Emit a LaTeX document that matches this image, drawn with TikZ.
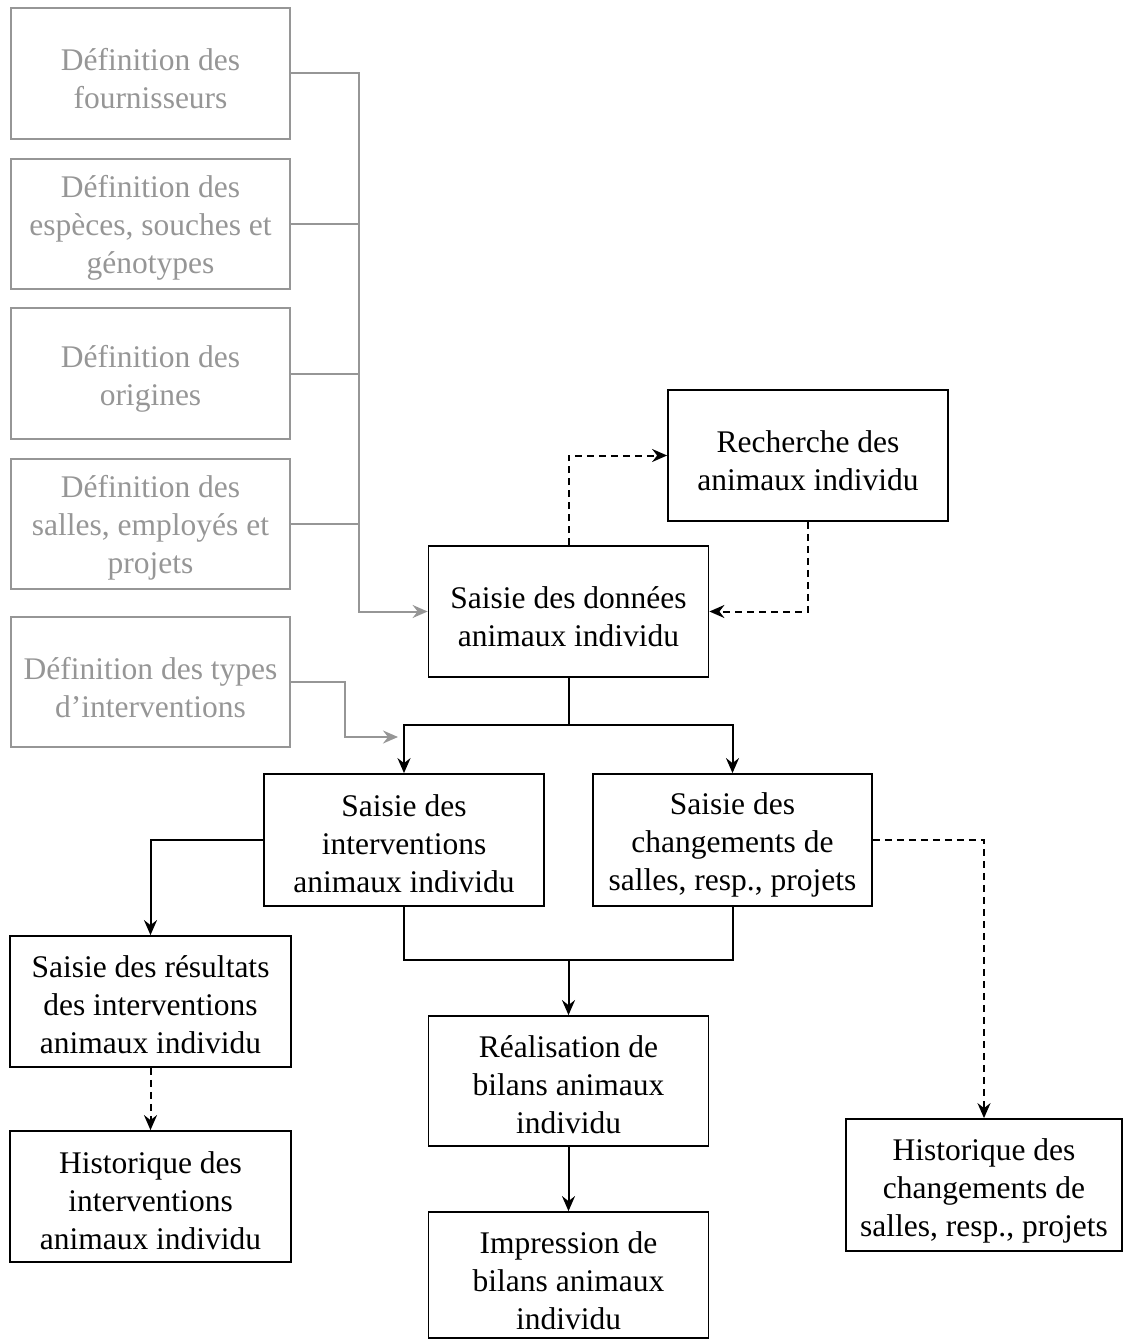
\documentclass[tikz,border=0pt]{standalone}
\usepackage{fontspec}
\setmainfont{Liberation Serif}
\usetikzlibrary{arrows.meta}
\definecolor{lightg}{RGB}{150,150,150}
\begin{document}
\begin{tikzpicture}[x=1pt,y=-1pt,
  font=\fontsize{31.5}{38}\selectfont,
  boxbase/.style={rectangle, inner sep=0pt, line width=1.8pt},
  blk/.style={boxbase, draw=black},
  gbox/.style={boxbase, draw=lightg},
  btxt/.style={align=center, inner sep=0pt, yshift=-5.5pt, text=black},
  gtxt/.style={btxt, text=lightg},
  conn/.style={line width=2pt, draw=black},
  gconn/.style={line width=2pt, draw=lightg},
  dsh/.style={conn, dash pattern=on 7pt off 5pt},
  tip/.style={-{Stealth[length=15pt,width=13pt,inset=5pt]}}
]
\useasboundingbox (0,0) rectangle (1122,1340);

% gray definition boxes
\node[gbox, minimum width=279, minimum height=131, label={[gtxt]center:{Définition des\\fournisseurs}}] (G1) at (150.5,73.5) {};
\node[gbox, minimum width=279, minimum height=130, label={[gtxt, yshift=2pt]center:{Définition des\\espèces, souches et\\génotypes}}] (G2) at (150.5,224) {};
\node[gbox, minimum width=279, minimum height=131, label={[gtxt]center:{Définition des\\origines}}] (G3) at (150.5,373.5) {};
\node[gbox, minimum width=279, minimum height=130, label={[gtxt, yshift=2pt]center:{Définition des\\salles, employés et\\projets}}] (G4) at (150.5,524) {};
\node[gbox, minimum width=279, minimum height=130, label={[gtxt]center:{Définition des types\\d’interventions}}] (G5) at (150.5,682) {};

% black boxes
\node[blk, minimum width=280, minimum height=131, label={[btxt]center:{Recherche des\\animaux individu}}] (Rech) at (808,455.5) {};
\node[blk, minimum width=280, minimum height=131, label={[btxt]center:{Saisie des données\\animaux individu}}] (SD) at (568.5,611.5) {};
\node[blk, minimum width=280, minimum height=132, label={[btxt, yshift=2pt]center:{Saisie des\\interventions\\animaux individu}}] (SI) at (404,840) {};
\node[blk, minimum width=279, minimum height=132, label={[btxt, yshift=1pt]center:{Saisie des\\changements de\\salles, resp., projets}}] (SC) at (732.5,840) {};
\node[blk, minimum width=281, minimum height=131, label={[btxt, yshift=2pt]center:{Saisie des résultats\\des interventions\\animaux individu}}] (SR) at (150.5,1001.5) {};
\node[blk, minimum width=281, minimum height=131, label={[btxt, yshift=1pt]center:{Historique des\\interventions\\animaux individu}}] (HI) at (150.5,1196.5) {};
\node[blk, minimum width=280, minimum height=130, label={[btxt, yshift=1.5pt]center:{Réalisation de\\bilans animaux\\individu}}] (RB) at (568.5,1081) {};
\node[blk, minimum width=280, minimum height=126, label={[btxt]center:{Impression de\\bilans animaux\\individu}}] (IB) at (568.5,1275) {};
\node[blk, minimum width=276, minimum height=132, label={[btxt]center:{Historique des\\changements de\\salles, resp., projets}}] (HC) at (984,1185) {};

% coordinates
\coordinate (bus) at (359,0);
\coordinate (t5) at (398,737);
\coordinate (split) at (568.5,725);
\coordinate (join) at (568.5,960);

% gray connectors
\draw[gconn, tip] (G1.east) -| (bus |- SD.west) -- (SD.west);
\draw[gconn] (G2.east) -- (G2.east -| bus);
\draw[gconn] (G3.east) -- (G3.east -| bus);
\draw[gconn] (G4.east) -- (G4.east -| bus);
\draw[gconn, tip] (G5.east) -- ++(54,0) |- (t5);

% dashed search loop
\draw[dsh, tip] (SD.north) |- (Rech.west);
\draw[dsh, tip] (Rech.south) |- (SD.east);

% black connectors
\draw[conn] (SD.south) -- (split);
\draw[conn, tip] (split) -| (SI.north);
\draw[conn, tip] (split) -| (SC.north);
\draw[conn] (SI.south) |- (join);
\draw[conn] (SC.south) |- (join);
\draw[conn, tip] (join) -- (RB.north);
\draw[conn, tip] (RB.south) -- (IB.north);
\draw[conn, tip] (SI.west) -| (SR.north);
\draw[dsh, tip] (SR.south) -- (HI.north);
\draw[dsh, tip] (SC.east) -| (HC.north);
\end{tikzpicture}
\end{document}
